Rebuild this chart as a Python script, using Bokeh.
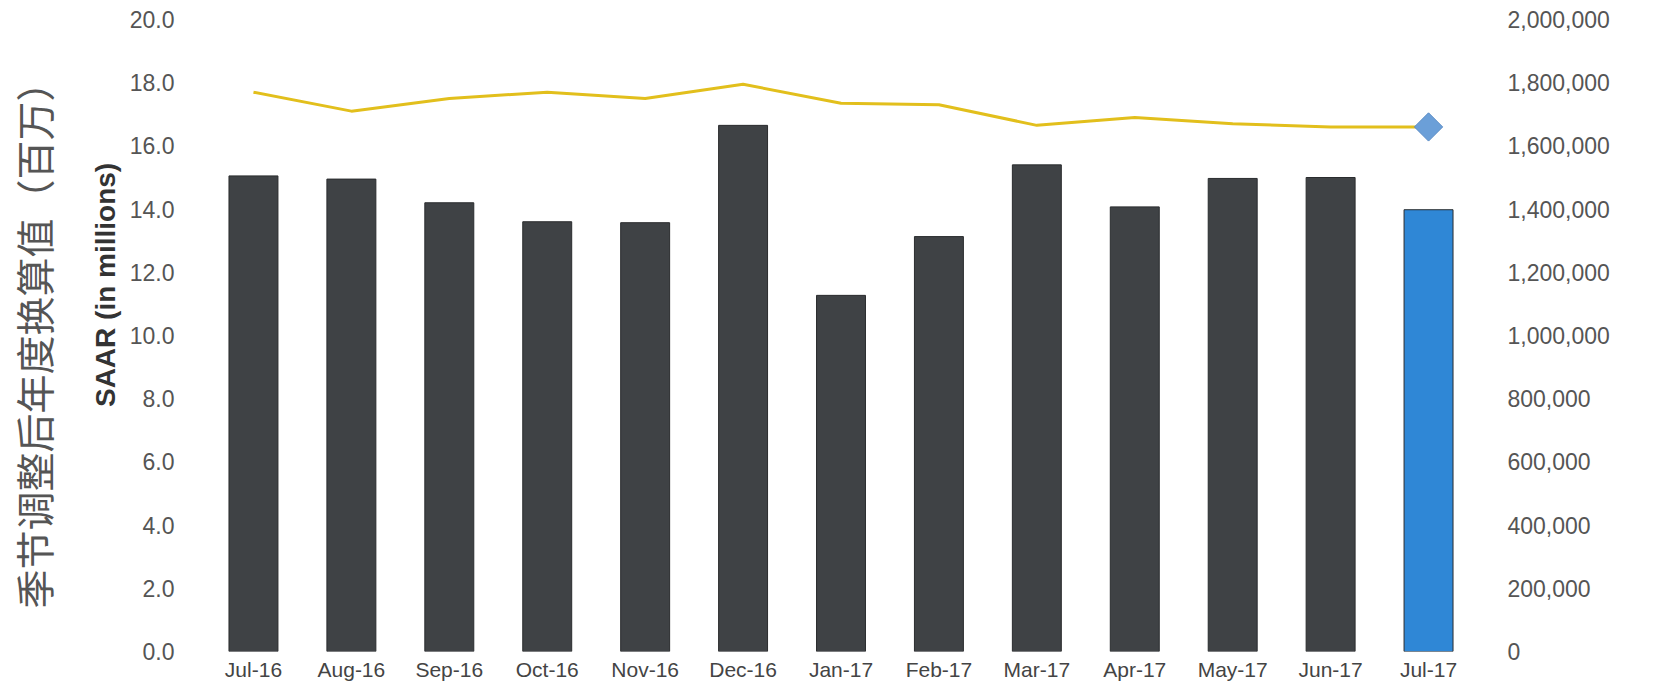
import math
from bokeh.plotting import figure
from bokeh.models import (Range1d, LinearAxis, FixedTicker, NumeralTickFormatter,
                          ColumnDataSource)
from bokeh.embed import file_html
from bokeh.resources import INLINE

months = ["Jul-16", "Aug-16", "Sep-16", "Oct-16", "Nov-16", "Dec-16", "Jan-17",
          "Feb-17", "Mar-17", "Apr-17", "May-17", "Jun-17", "Jul-17"]
# monthly sales (right axis, units)
sales = [1505000, 1495000, 1420000, 1360000, 1357000, 1665000, 1127000,
         1313000, 1540000, 1407000, 1497000, 1500000, 1398000]
# SAAR in millions (left axis)
saar = [17.7, 17.1, 17.5, 17.7, 17.5, 17.95, 17.35, 17.3, 16.65, 16.9, 16.7, 16.6, 16.6]
bar_colors = ["#3f4245"] * 12 + ["#2f87d6"]
left_ticks = [0, 2, 4, 6, 8, 10, 12, 14, 16, 18, 20]
right_ticks = [0, 200000, 400000, 600000, 800000, 1000000, 1200000, 1400000,
               1600000, 1800000, 2000000]
label_cn = "季节调整后年度换算值（百万）"
label_en = "SAAR (in millions)"

W, H = 1637, 683
p = figure(x_range=months, y_range=Range1d(0, 20), width=W, height=H,
           output_backend="svg", toolbar_location=None,
           min_border_left=204, min_border_right=160, min_border_top=19,
           min_border_bottom=29)
p.extra_y_ranges = {"units": Range1d(0, 2000000)}
p.outline_line_color = None
p.xgrid.grid_line_color = None
p.ygrid.grid_line_color = None

src = ColumnDataSource(dict(m=months, s=sales, c=bar_colors))
p.vbar(x="m", top="s", width=0.5, color="c", line_color="#2a2c2e", line_width=1,
       source=src, y_range_name="units")
p.line(months, saar, line_color="#e2bf1c", line_width=3)
p.scatter([months[-1]], [saar[-1]], marker="square", size=20, angle=math.pi / 4,
          fill_color="#6b9fd8", line_color="#5a8cc6")


def clean(ax):
    ax.axis_line_color = None
    ax.major_tick_line_color = None
    ax.minor_tick_line_color = None
    ax.major_tick_out = 0
    ax.major_tick_in = 0
    ax.minor_tick_out = 0
    ax.minor_tick_in = 0


ya = p.yaxis[0]
clean(ya)
ya.ticker = FixedTicker(ticks=left_ticks)
ya.formatter = NumeralTickFormatter(format="0.0")
ya.major_label_standoff = 30
ya.major_label_text_font = "Liberation Sans"
ya.major_label_text_font_size = "23px"
ya.major_label_text_color = "#555555"
ya.axis_label = "\u00a0" * 13 + label_en
ya.axis_label_text_font = "Liberation Sans"
ya.axis_label_text_font_size = "28px"
ya.axis_label_text_font_style = "bold"
ya.axis_label_text_color = "#333333"
ya.axis_label_standoff = 6

oa = LinearAxis(ticker=FixedTicker(ticks=[]))
clean(oa)
oa.major_label_text_font_size = "0px"
oa.major_label_standoff = 0
oa.axis_label = label_cn
oa.axis_label_text_font = "Noto Sans CJK SC"
oa.axis_label_text_font_size = "39px"
oa.axis_label_text_font_style = "normal"
oa.axis_label_text_color = "#555555"
oa.axis_label_standoff = 26
p.add_layout(oa, "left")

ra = LinearAxis(y_range_name="units")
clean(ra)
ra.ticker = FixedTicker(ticks=right_ticks)
ra.formatter = NumeralTickFormatter(format="0,0")
ra.major_label_standoff = 30
ra.major_label_text_font = "Liberation Sans"
ra.major_label_text_font_size = "23px"
ra.major_label_text_color = "#555555"
p.add_layout(ra, "right")

xa = p.xaxis[0]
clean(xa)
xa.major_label_standoff = 6
xa.major_label_text_font = "Liberation Sans"
xa.major_label_text_font_size = "21px"
xa.major_label_text_color = "#444444"

open("out.html", "w").write(file_html(p, INLINE))
